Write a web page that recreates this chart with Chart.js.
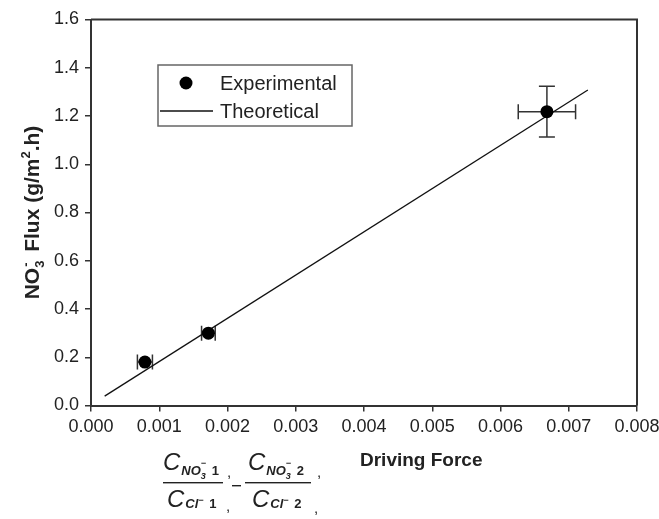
<!DOCTYPE html>
<html>
<head>
<meta charset="utf-8">
<script src="https://cdn.jsdelivr.net/npm/chart.js@4.4.1/dist/chart.umd.min.js"></script>
<style>
  body { margin: 0; background: #fff; }
  #wrap { width: 659px; height: 519px; }
</style>
</head>
<body>
<div id="wrap"><canvas id="fluxChart" width="659" height="519"></canvas></div>
<script>
// values
const expX = [0.00079, 0.00172, 0.00668];
const expY = [0.180, 0.300, 1.218];
const expXErr = [0.00011, 0.00010, 0.00042];
const expYErr = [0, 0, 0.105];
const theoX = [0.0002, 0.00728];
const theoY = [0.039, 1.308];

const FONT = "'Liberation Sans', Arial, Helvetica, sans-serif";
Chart.defaults.font.family = FONT;
Chart.defaults.color = '#222';

const expPoints = expX.map((x, i) => ({ x: x, y: expY[i] }));
const theoPoints = theoX.map((x, i) => ({ x: x, y: theoY[i] }));

// draws a run of [text, font, dx, dy, noAdvance] pieces from a start point
function drawPieces(ctx, x0, y0, pieces, measureOnly) {
  let x = x0;
  pieces.forEach(p => {
    ctx.font = p[1];
    if (!measureOnly) ctx.fillText(p[0], x + (p[2] || 0), y0 + (p[3] || 0));
    if (!p[4]) x += ctx.measureText(p[0]).width + (p[2] || 0);
  });
  return x - x0;
}

const overlay = {
  id: 'overlay',
  beforeDatasetsDraw(chart) {
    const ctx = chart.ctx;
    const xs = chart.scales.x, ys = chart.scales.y;
    ctx.save();
    ctx.strokeStyle = '#333';
    ctx.lineWidth = 1.5;
    for (let i = 0; i < expX.length; i++) {
      const px = xs.getPixelForValue(expX[i]);
      const py = ys.getPixelForValue(expY[i]);
      const xl = xs.getPixelForValue(expX[i] - expXErr[i]);
      const xr = xs.getPixelForValue(expX[i] + expXErr[i]);
      ctx.beginPath();
      ctx.moveTo(xl, py); ctx.lineTo(xr, py);
      ctx.moveTo(xl, py - 7.5); ctx.lineTo(xl, py + 7.5);
      ctx.moveTo(xr, py - 7.5); ctx.lineTo(xr, py + 7.5);
      ctx.stroke();
      if (expYErr[i] > 0) {
        const yt = ys.getPixelForValue(expY[i] + expYErr[i]);
        const yb = ys.getPixelForValue(expY[i] - expYErr[i]);
        ctx.beginPath();
        ctx.moveTo(px, yt); ctx.lineTo(px, yb);
        ctx.moveTo(px - 8, yt); ctx.lineTo(px + 8, yt);
        ctx.moveTo(px - 8, yb); ctx.lineTo(px + 8, yb);
        ctx.stroke();
      }
    }
    ctx.restore();
  },
  afterDraw(chart) {
    const ctx = chart.ctx;
    const a = chart.chartArea;
    ctx.save();
    // top and right frame
    ctx.strokeStyle = '#333';
    ctx.lineWidth = 2;
    ctx.beginPath();
    ctx.moveTo(a.left, a.top); ctx.lineTo(a.right, a.top); ctx.lineTo(a.right, a.bottom);
    ctx.stroke();

    // legend
    ctx.strokeStyle = '#666';
    ctx.lineWidth = 1.5;
    ctx.strokeRect(158, 65, 194, 61);
    ctx.fillStyle = '#000';
    ctx.beginPath(); ctx.arc(186, 83, 6.5, 0, Math.PI * 2); ctx.fill();
    ctx.strokeStyle = '#111';
    ctx.lineWidth = 1.3;
    ctx.beginPath(); ctx.moveTo(160, 111); ctx.lineTo(213, 111); ctx.stroke();
    ctx.fillStyle = '#222';
    ctx.font = '20px ' + FONT;
    ctx.textBaseline = 'middle';
    ctx.fillText('Experimental', 220, 84);
    ctx.fillText('Theoretical', 220, 112);

    // x title
    ctx.textBaseline = 'alphabetic';
    ctx.font = 'bold 19px ' + FONT;
    ctx.fillText('Driving Force', 360, 466);

    // y title, rotated
    ctx.save();
    ctx.translate(39, 0);
    ctx.rotate(-Math.PI / 2);
    const big = 'bold 21px ' + FONT, small = 'bold 13px ' + FONT;
    const yTitle = [
      ['NO', big],
      ['3', small, 0, 5, true],
      ['-', small, 1, -9],
      ['  Flux (g/m', big, -1],
      ['2', small, 0, -9],
      ['.h)', big, 0]
    ];
    const w = drawPieces(ctx, 0, 0, yTitle, true);
    const cy = (a.top + a.bottom) / 2;
    drawPieces(ctx, -cy - w / 2, 0, yTitle);
    ctx.restore();

    // driving force expression
    const cF = 'italic 24px ' + FONT;
    const sF = 'bold italic 13px ' + FONT;
    const tF = 'bold italic 9px ' + FONT;
    const nF = 'bold 13px ' + FONT;
    function frac(x, line0, line1, num) {
      drawPieces(ctx, x, 470, [
        ['C', cF], ['NO', sF, 1, 5], ['3', tF, 0, 9, true], ['\u2212', tF, 0, -4], [' ' + num, nF, 2, 5]
      ]);
      ctx.fillRect(line0, 482, line1 - line0, 1.4);
      drawPieces(ctx, x + 4, 507, [
        ['C', cF], ['Cl', sF, 1, 1], ['\u2212', tF, 0, -4], [' ' + num, nF, 2, 1]
      ]);
    }
    frac(163, 163, 223, '1');
    frac(248, 245, 311, '2');
    ctx.font = '15px ' + FONT;
    ctx.fillText(',', 227, 477);
    ctx.fillText(',', 226, 511);
    ctx.fillText(',', 317, 477);
    ctx.fillText(',', 314, 513);
    ctx.fillRect(232, 485, 9, 1.4);
    ctx.restore();
  }
};

new Chart(document.getElementById('fluxChart'), {
  type: 'scatter',
  data: {
    datasets: [
      {
        label: 'Experimental',
        data: expPoints,
        backgroundColor: '#000',
        borderWidth: 0,
        pointRadius: 6.5,
        pointHoverRadius: 6.5
      },
      {
        label: 'Theoretical',
        data: theoPoints,
        showLine: true,
        borderColor: '#111',
        borderWidth: 1.3,
        pointRadius: 0,
        fill: false
      }
    ]
  },
  options: {
    responsive: false,
    animation: false,
    layout: { padding: { top: 19.5, right: 0, left: 0, bottom: 0 } },
    plugins: { legend: { display: false }, tooltip: { enabled: false } },
    scales: {
      x: {
        type: 'linear',
        min: 0, max: 0.008,
        ticks: {
          stepSize: 0.001,
          padding: 5,
          font: { size: 18 },
          color: '#222',
          maxRotation: 0,
          callback: v => v.toFixed(3)
        },
        grid: { drawOnChartArea: false, drawTicks: true, tickLength: 6, color: '#333', lineWidth: 1.5 },
        border: { display: true, color: '#333', width: 2 },
        afterFit: s => { s.height = 113.5; s.paddingRight = 22; s.paddingLeft = 0; }
      },
      y: {
        min: 0, max: 1.6,
        ticks: {
          stepSize: 0.2,
          padding: 6,
          font: { size: 18 },
          color: '#222',
          callback: v => v.toFixed(1)
        },
        grid: { drawOnChartArea: false, drawTicks: true, tickLength: 6, color: '#333', lineWidth: 1.5 },
        border: { display: true, color: '#333', width: 2 },
        afterFit: s => { s.width = 91; }
      }
    }
  },
  plugins: [overlay]
});
</script>
</body>
</html>
